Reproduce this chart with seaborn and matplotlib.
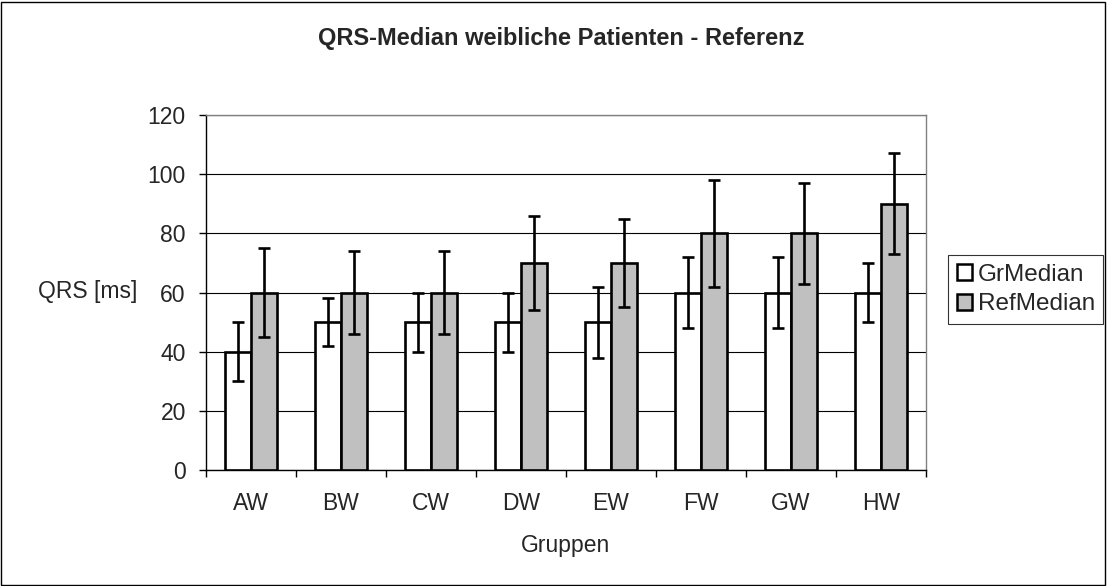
import matplotlib
matplotlib.use("Agg")
import matplotlib.pyplot as plt
import seaborn as sns
import pandas as pd
import numpy as np
from matplotlib.patches import Rectangle

groups = ["AW", "BW", "CW", "DW", "EW", "FW", "GW", "HW"]
gr_median = [40, 50, 50, 50, 50, 60, 60, 60]
gr_low = [30, 42, 40, 40, 38, 48, 48, 50]
gr_high = [50, 58, 60, 60, 62, 72, 72, 70]
ref_median = [60, 60, 60, 70, 70, 80, 80, 90]
ref_low = [45, 46, 46, 54, 55, 62, 63, 73]
ref_high = [75, 74, 74, 86, 85, 98, 97, 107]
series = ["GrMedian", "RefMedian"]
yticks = [0, 20, 40, 60, 80, 100, 120]

sns.set_theme(style="white")
plt.rcParams['font.family'] = ['Liberation Sans', 'DejaVu Sans']

FS = 16.5
W, H = 1107, 586

df = pd.DataFrame({
    "Gruppe": groups * 2,
    "Serie": [series[0]] * len(groups) + [series[1]] * len(groups),
    "Wert": gr_median + ref_median,
})

fig = plt.figure(figsize=(W / 100, H / 100), dpi=100)
ax = fig.add_axes([206/W, 1-470/H, 720/W, 355/H])

sns.barplot(data=df, x="Gruppe", y="Wert", hue="Serie", order=groups,
            hue_order=series, palette=["#ffffff", "#c0c0c0"], width=0.57,
            gap=0, edgecolor="black", linewidth=1.9, errorbar=None,
            legend=False, ax=ax, zorder=3)

lows = [gr_low, ref_low]
highs = [gr_high, ref_high]
meds = [gr_median, ref_median]
bar_containers = list(ax.containers)
for i, cont in enumerate(bar_containers):
    xs = [p.get_x() + p.get_width() / 2 for p in cont.patches]
    m = np.array(meds[i]); lo = np.array(lows[i]); hi = np.array(highs[i])
    ax.errorbar(xs, m, yerr=[m - lo, hi - m], fmt="none", ecolor="black",
                elinewidth=1.9, capsize=4, capthick=1.9, zorder=4)

ax.set_ylim(0, 120)
ax.set_xlim(-0.5, len(groups) - 0.5)
ax.set_yticks(yticks)
ax.yaxis.grid(True, color="black", linewidth=0.8, zorder=0)
ax.set_axisbelow(True)
for s in ["top", "right"]:
    ax.spines[s].set_color("#808080")
    ax.spines[s].set_linewidth(1.0)
for s in ["left", "bottom"]:
    ax.spines[s].set_color("black")
    ax.spines[s].set_linewidth(1.0)

ax.tick_params(axis="y", which="major", left=True, length=5, width=1,
               color="black", labelsize=FS, pad=9.5, direction="out")
ax.tick_params(axis="x", which="major", bottom=False, length=0,
               labelsize=FS, pad=16)
ax.set_xticks(np.arange(-0.5, len(groups), 1.0), minor=True)
ax.tick_params(axis="x", which="minor", bottom=True, length=5, width=1,
               color="black", direction="out")

ax.set_xlabel("")
ax.set_ylabel("")
fig.text(566/W, 1-552/H, "Gruppen", fontsize=FS, ha="center", va="baseline")
fig.text(38/W, 1-298/H, "QRS [ms]", fontsize=FS, va="baseline", ha="left")
fig.text(561/W, 1-45/H, "QRS-Median weibliche Patienten - Referenz",
         fontsize=17, fontweight="bold", ha="center", va="baseline")

handles = [Rectangle((0, 0), 1, 1, facecolor=c, edgecolor="black", linewidth=1.8)
           for c in ["#ffffff", "#c0c0c0"]]
leg = fig.legend(handles, series, loc="upper left",
                 bbox_to_anchor=(948/W, 1-255/H), frameon=True,
                 fancybox=False, edgecolor="black", fontsize=17.5,
                 handlelength=0.62, handleheight=0.62, handletextpad=0.25,
                 borderpad=0.35, labelspacing=0.32, borderaxespad=0)
leg.get_frame().set_linewidth(0.8)

fig.patches.append(Rectangle((1/W, 1/H), (W - 3)/W, (H - 3)/H,
                             transform=fig.transFigure, fill=False,
                             edgecolor="black", linewidth=1.0))

fig.savefig("out.png", dpi=100)
